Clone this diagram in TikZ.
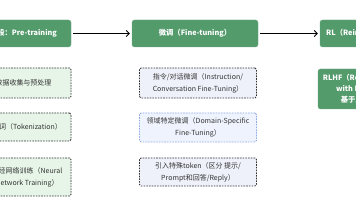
\documentclass[tikz,border=0pt]{standalone}
\usepackage{fontspec}
\setmainfont{Noto Sans CJK SC}
\usetikzlibrary{arrows.meta}
\definecolor{stagegreen}{HTML}{549B6C}
\definecolor{subgreen}{HTML}{E7F5E8}
\definecolor{sublav}{HTML}{EFF1FA}
\definecolor{subblue}{HTML}{EEF3FD}
\definecolor{blueline}{HTML}{8EAAE6}
\begin{document}
\begin{tikzpicture}[x=1pt,y=-1pt,
  stage/.style={fill=stagegreen, draw=stagegreen!85!white, rounded corners=2.5pt,
    minimum width=126pt, minimum height=27pt, text=white, inner sep=0pt,
    font=\fontsize{7.3}{11}\selectfont\bfseries, align=center},
  subbox/.style={draw=black!80, dash pattern=on 1.6pt off 1.1pt, line width=0.8pt,
    rounded corners=1.5pt, inner sep=0pt, align=center, text=black!80,
    font=\fontsize{7}{12}\selectfont},
  subg/.style={subbox, fill=subgreen, minimum width=88pt},
  subl/.style={subbox, fill=sublav, minimum width=117pt},
  subb/.style={subbox, fill=subblue, draw=blueline, minimum width=117pt},
  arr/.style={-{Straight Barb[length=3pt,width=6pt]}, line width=0.8pt, shorten <=2pt, shorten >=2pt}
]
\useasboundingbox (0,0) rectangle (356,200);
\fill[white] (0,0) rectangle (356,200);

\node[stage] (pre) at (8,33.5) {\hspace*{9pt}预训练阶段：Pre-training};
\node[stage] (ft) at (195,33.5) {微调（Fine-tuning）};
\node[stage] (rl) at (383,33.5) {RL（Reinforcement Learning）};

\draw[arr] (pre) -- (ft);
\draw[arr] (ft) -- (rl);

\node[subg, minimum height=30pt] (data) at (27,83) {\hspace*{-7pt}数据收集与预处理};
\node[subg, minimum height=28pt] (tok) at (27,127) {分词（Tokenization）};
\node[subg, minimum height=38pt] (nn) at (27,177) {神经网络训练（Neural\\Network Training）};

\node[subl, minimum height=30pt] (inst) at (198,83) {指令/对话微调（Instruction/\\Conversation Fine-Tuning）};
\node[subb, minimum height=29pt] (dom) at (198,127.5) {领域特定微调（Domain-Specific\\Fine-Tuning）};
\node[subl, minimum height=28pt] (spec) at (198,172) {引入特殊token（区分 提示/\\Prompt和回答/Reply）};

\node[stage, minimum height=40pt] (rlhf) at (381,89) {RLHF（Reinforcement Learning\\with Human Feedback）\\基于人类反馈的强化学习};
\end{tikzpicture}
\end{document}
